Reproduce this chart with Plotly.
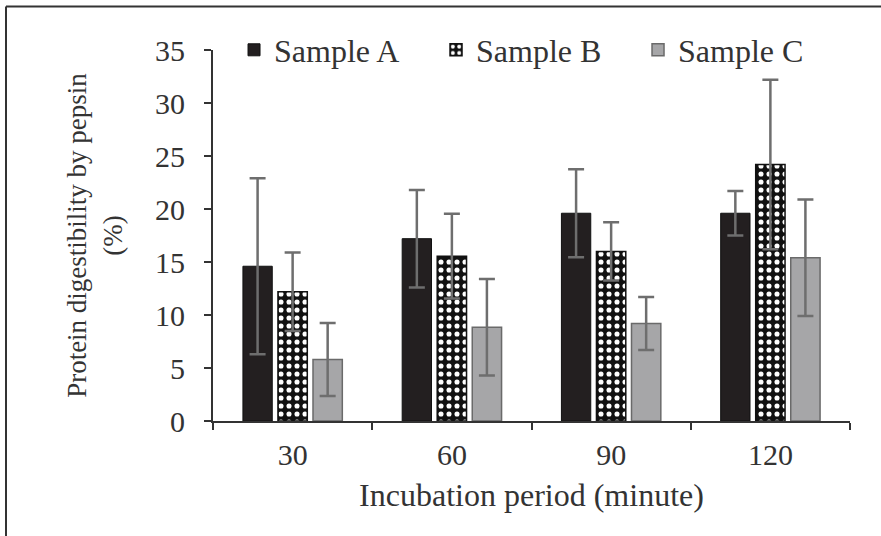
import plotly.graph_objects as go

categories = ["30", "60", "90", "120"]
sample_a = [14.6, 17.2, 19.6, 19.6]
sample_a_err = [8.3, 4.6, 4.15, 2.1]
sample_b = [12.2, 15.55, 16.0, 24.2]
sample_b_err = [3.7, 4.0, 2.75, 8.0]
sample_c = [5.8, 8.85, 9.2, 15.4]
sample_c_err = [3.45, 4.55, 2.5, 5.5]
y_ticks = [0, 5, 10, 15, 20, 25, 30, 35]

FONT = "Liberation Serif"
TXT = "#333333"
ERR = "#6e6e6e"

fig = go.Figure()
fig.add_trace(go.Bar(
    name="Sample A", x=categories, y=sample_a,
    marker=dict(color="#231f20", line=dict(color="#111111", width=1)),
    error_y=dict(type="data", array=sample_a_err, visible=True, color=ERR, thickness=2.5, width=8),
))
fig.add_trace(go.Bar(
    name="Sample B", x=categories, y=sample_b,
    marker=dict(color="#111111", line=dict(color="#111111", width=1.5),
                pattern=dict(shape=".", bgcolor="#111111", fgcolor="#ffffff", fgopacity=1,
                             size=8, solidity=0.32, fillmode="overlay")),
    error_y=dict(type="data", array=sample_b_err, visible=True, color=ERR, thickness=2.5, width=8),
))
fig.add_trace(go.Bar(
    name="Sample C", x=categories, y=sample_c,
    marker=dict(color="#a6a6a8", line=dict(color="#6a6a6a", width=1.5)),
    error_y=dict(type="data", array=sample_c_err, visible=True, color=ERR, thickness=2.5, width=8),
))

L, R, T, B = 213, 31, 49.5, 115
W, H = 881, 536
pw = W - L - R
ph = H - T - B

def px_x(p):
    return (p - L) / pw

def px_y(p):
    return (H - B - p) / ph

fig.update_layout(
    width=W, height=H,
    margin=dict(l=L, r=R, t=T, b=B, pad=0),
    paper_bgcolor="white", plot_bgcolor="white",
    font=dict(family=FONT, color=TXT, size=30),
    barmode="group", bargap=0.34, bargroupgap=0.163,
    showlegend=True,
    legend=dict(orientation="h", x=0.033, xanchor="left", y=1.0, yanchor="middle",
                font=dict(size=32, family=FONT, color=TXT), bgcolor="rgba(0,0,0,0)",
                entrywidth=157, entrywidthmode="pixels", itemclick=False),
    xaxis=dict(
        type="category", showline=True, linecolor="#333333", linewidth=2,
        ticks="outside", tickson="boundaries", ticklen=7, tickwidth=2, tickcolor="#333333",
        tickfont=dict(size=30), ticklabelstandoff=6,
        title=dict(text="Incubation period (minute)", font=dict(size=32), standoff=14),
        showgrid=False, zeroline=False,
    ),
    yaxis=dict(
        range=[0, 35], tickvals=y_ticks, showline=True, linecolor="#333333", linewidth=2,
        ticks="outside", ticklen=7, tickwidth=2, tickcolor="#333333",
        tickfont=dict(size=30), ticklabelstandoff=13,
        title=dict(text="Protein digestibility by pepsin<br>(%)", font=dict(size=27), standoff=25),
        showgrid=False, zeroline=False,
    ),
    shapes=[
        dict(type="line", xref="paper", yref="paper", x0=px_x(6), x1=px_x(6), y0=px_y(6), y1=px_y(H + 5),
             line=dict(color="#333333", width=2)),
        dict(type="line", xref="paper", yref="paper", x0=px_x(6), x1=px_x(W + 5), y0=px_y(6), y1=px_y(6),
             line=dict(color="#333333", width=2)),
    ],
)

fig.write_html("out.html", config={"displayModeBar": False},
               post_script="document.body.style.margin='0';")
